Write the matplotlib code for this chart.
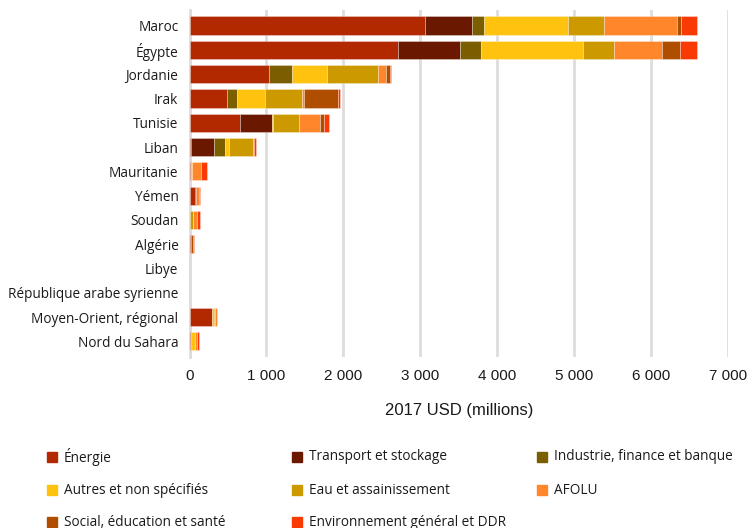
import numpy as np
import matplotlib.pyplot as plt
from matplotlib.patches import Rectangle

countries = ["Maroc", "Égypte", "Jordanie", "Irak", "Tunisie", "Liban", "Mauritanie",
             "Yémen", "Soudan", "Algérie", "Libye", "République arabe syrienne",
             "Moyen-Orient, régional", "Nord du Sahara"]

sectors = ["Énergie", "Transport et stockage", "Industrie, finance et banque",
           "Autres et non spécifiés", "Eau et assainissement", "AFOLU",
           "Social, éducation et santé", "Environnement général et DDR"]

colors = ["#B22900", "#6B1800", "#7A5E00", "#FFC20E", "#CC9900", "#FF862B",
          "#B04E00", "#FA3A05"]

# 2017 USD (millions), one list per sector, in country order
energie = [3056, 2712, 1036, 492, 659, 17, 13, 74, 0, 13, 0, 0, 291, 13]
transport = [623, 804, 0, 0, 412, 295, 0, 13, 0, 0, 0, 0, 0, 0]
industrie = [144, 279, 297, 130, 0, 143, 0, 0, 0, 0, 0, 0, 0, 0]
autres = [1096, 1323, 455, 363, 21, 61, 17, 0, 0, 0, 0, 0, 22, 61]
eau = [474, 400, 669, 478, 334, 303, 0, 0, 39, 0, 0, 0, 22, 0]
afolu = [947, 622, 93, 28, 273, 22, 117, 30, 56, 0, 0, 0, 17, 22]
social = [56, 232, 56, 446, 52, 0, 0, 0, 0, 26, 0, 0, 0, 0]
environnement = [199, 223, 18, 14, 57, 22, 74, 17, 39, 21, 0, 0, 0, 22]

series = [energie, transport, industrie, autres, eau, afolu, social, environnement]

xticks = [0, 1000, 2000, 3000, 4000, 5000, 6000, 7000]
xtick_labels = ["0", "1 000", "2 000", "3 000", "4 000", "5 000", "6 000", "7 000"]

fig = plt.figure(figsize=(7.52, 5.28), dpi=100)
ax = fig.add_axes([0.252, 0.324, 0.716, 0.657])

y = np.arange(len(countries))
left = np.zeros(len(countries))
for vals, col in zip(series, colors):
    vals = np.array(vals, dtype=float)
    nz = vals > 0  # skip empty segments so no stray edges are drawn
    ax.barh(y[nz], vals[nz], left=left[nz], height=0.75, color=col,
            edgecolor=(1, 1, 1, 0.35), linewidth=0.6, zorder=3)
    left += vals

ax.set_xlim(0, 7000)
ax.set_ylim(len(countries) - 0.36, -0.64)
ax.set_yticks(y)
ax.set_yticklabels(countries, fontfamily="Open Sans", fontsize=9.8, color="#1a1a1a")
ax.set_xticks(xticks)
ax.set_xticklabels(xtick_labels, fontfamily="Liberation Sans", fontsize=11, color="#1a1a1a")
ax.tick_params(length=0)
ax.tick_params(axis="y", pad=8)
ax.tick_params(axis="x", pad=9)
ax.set_xlabel("2017 USD (millions)", fontfamily="Liberation Sans", fontsize=12,
              color="#1a1a1a", labelpad=14)

ax.grid(axis="x", color="#DDDDDD", linewidth=2, zorder=0)
for s in ["top", "right", "bottom"]:
    ax.spines[s].set_visible(False)
ax.spines["left"].set_color("#DDDDDD")
ax.spines["left"].set_linewidth(2)

# legend laid out in three columns under the chart
col_x = [47, 292, 537]
row_y = [457, 490, 522]
W, H = 752.0, 528.0
for i, (name, col) in enumerate(zip(sectors, colors)):
    cx = col_x[i % 3]
    cy = row_y[i // 3]
    fig.patches.append(Rectangle((cx / W, 1 - (cy + 5) / H), 10 / W, 10 / H,
                                 transform=fig.transFigure, color=col))
    fig.text((cx + 17) / W, 1 - cy / H, name, fontfamily="Open Sans", fontsize=9.8,
             color="#1a1a1a", va="center", ha="left")

fig.savefig("out.png", dpi=100)
